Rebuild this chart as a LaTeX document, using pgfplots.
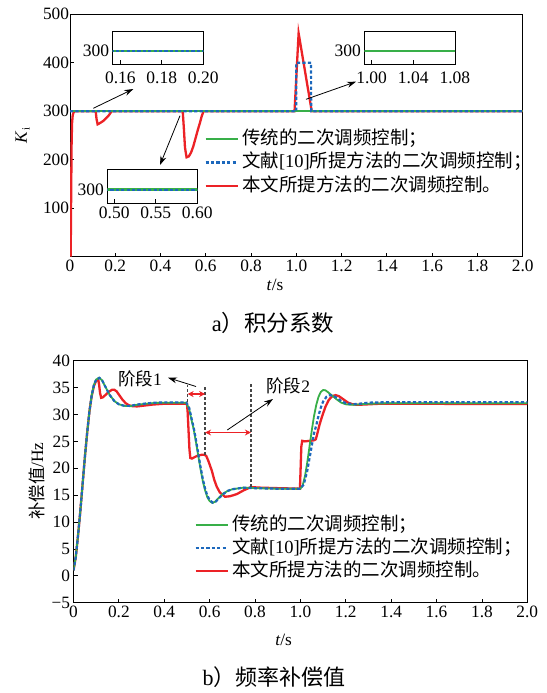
\documentclass[border=0pt]{standalone}
\usepackage{fontspec}
\setmainfont{Liberation Serif}
\newfontfamily\cjk{Noto Sans CJK SC}
\usepackage{pgfplots}
\pgfplotsset{compat=1.18}
\usetikzlibrary{arrows.meta}
\definecolor{cg}{RGB}{56,175,72}
\definecolor{cb}{RGB}{28,104,188}
\definecolor{cr}{RGB}{236,34,38}
\definecolor{cd}{RGB}{70,70,70}
\pgfplotsset{
 base/.style={scale only axis, tick align=inside, tick pos=left, major tick length=4pt,
   axis line style={line width=0.9pt},
   /pgf/number format/assume math mode=true,
   every tick label/.append style={font=\fontsize{17.3}{17.3}\selectfont},
   every tick/.style={black, line width=0.8pt}},
 gline/.style={cg, line width=2.3pt},
 bline/.style={cb, line width=2.8pt, dash pattern=on 3.2pt off 2.2pt},
 rline/.style={cr, line width=2.3pt},
 leg/.style={legend style={draw=none, fill=none, inner sep=0pt, outer sep=0pt,
   font=\fontsize{18.5}{18.5}\selectfont, row sep=5pt, column sep=3pt,
   nodes={inner sep=0pt, text height=14.5pt, text depth=3.8pt}},
   legend cell align=left,
   legend image code/.code={\draw[##1] (0pt,0pt) -- (32pt,0pt);}},
 inset/.style={base, width=90.6pt, height=33.3pt, anchor=south west,
   axis background/.style={fill=white}, ymin=286.7, ymax=320, ytick={300},
   every tick label/.append style={font=\fontsize{17.5}{17.5}\selectfont}},
}
\begin{document}
\begin{tikzpicture}
\useasboundingbox (0pt,0pt) rectangle (546pt,-693pt);
% ---------------- top axis
\begin{axis}[base, leg, at={(70pt,-256.7pt)}, anchor=south west, width=452.7pt, height=242.4pt,
  xmin=0, xmax=2, ymin=0, ymax=500,
  xtick={0,0.2,0.4,0.6,0.8,1.0,1.2,1.4,1.6,1.8,2.0},
  xticklabels={0,0.2,0.4,0.6,0.8,1.0,1.2,1.4,1.6,1.8,2.0},
  ytick={100,200,300,400,500},
  yticklabel style={xshift=2.5pt},
  xlabel={\fontsize{17.3}{17.3}\selectfont\textit{t}/s},
  xlabel style={at={(axis description cs:0.453,-0.117)}, anchor=center},
  ylabel={\fontsize{17.3}{17.3}\selectfont\textit{K}\raisebox{-0.35ex}{\fontsize{11}{11}\selectfont i}},
  ylabel style={at={(axis description cs:-0.1047,0.5)}, anchor=center},
  legend style={at={(axis description cs:0.2965,0.389)}, anchor=west}]
\addlegendimage{gline}\addlegendentry{\cjk 传统的二次调频控制；}
\addlegendimage{bline}\addlegendentry{{\cjk 文献}[10]{\cjk 所提方法的二次调频控制；}}
\addlegendimage{rline}\addlegendentry{\cjk 本文所提方法的二次调频控制。}
\addplot[rline, forget plot] coordinates {
(0.003,0) (0.005,120) (0.007,230) (0.009,275) (0.012,292) (0.016,298) (0.022,300)
(0.1135,300) (0.117,285) (0.122,273) (0.13,275) (0.147,280) (0.169,290) (0.184,300)
(0.498,300) (0.503,265) (0.508,225) (0.515,205) (0.525,207) (0.535,215) (0.545,228)
(0.555,245) (0.565,262) (0.574,276) (0.582,290) (0.59,300)
(0.992,300) (1.01,461) (1.068,300) (2,300)};
\addplot[gline, forget plot] coordinates {(0,300) (2,300)};
\addplot[bline, line width=2.2pt, forget plot] coordinates {(0,300) (0.9995,300) (1.0,400) (1.065,400) (1.0655,300) (2,300)};
\end{axis}
% insets
\begin{axis}[inset, at={(112.7pt,-64.3pt)}, xmin=0.1563, xmax=0.20005,
  xtick={0.16,0.18,0.2}, xticklabels={0.16,0.18,0.20}, xticklabel style={yshift=-4pt}]
\addplot[cg, line width=2.6pt] coordinates {(0.15,300) (0.21,300)};
\addplot[bline, line width=2.4pt] coordinates {(0.15,300) (0.21,300)};
\end{axis}
\begin{axis}[inset, at={(107.3pt,-203.3pt)}, height=34pt, width=90pt, xmin=0.4917, xmax=0.6001,
  xtick={0.5,0.55,0.6}, xticklabels={0.50,0.55,0.60}]
\addplot[cg, line width=2.6pt] coordinates {(0.45,300) (0.65,300)};
\addplot[bline, line width=2.4pt] coordinates {(0.45,300) (0.65,300)};
\end{axis}
\begin{axis}[inset, at={(364.3pt,-64.3pt)}, width=90.7pt, xmin=0.993, xmax=1.0801,
  xtick={1.0,1.04,1.08}, xticklabels={1.00,1.04,1.08}, xticklabel style={yshift=-4pt}]
\addplot[cg, line width=2.6pt] coordinates {(0.95,300) (1.1,300)};
\end{axis}
\draw[line width=0.8pt, -{Stealth[length=9pt,width=6pt]}] (93.3pt,-108.3pt) -- (133.3pt,-89pt);
\draw[line width=0.8pt, -{Stealth[length=9pt,width=6pt]}] (180pt,-115.7pt) -- (160pt,-165pt);
\draw[line width=0.8pt, -{Stealth[length=9pt,width=6pt]}] (306pt,-99.3pt) -- (356pt,-81.7pt);
\node at (273pt,-323pt) {\fontsize{22.5}{22.5}\selectfont a{\cjk ）积分系数}};
% ---------------- bottom axis
\begin{axis}[base, leg, at={(73.5pt,-602.7pt)}, anchor=south west, width=453.8pt, height=242pt,
  xmin=0, xmax=2, ymin=-5, ymax=40,
  xtick={0,0.2,0.4,0.6,0.8,1.0,1.2,1.4,1.6,1.8,2.0},
  xticklabels={0,0.2,0.4,0.6,0.8,1.0,1.2,1.4,1.6,1.8,2.0},
  ytick={-5,0,5,10,15,20,25,30,35,40},
  yticklabels={−5,0,5,10,15,20,25,30,35,40},
  xlabel={\fontsize{17.3}{17.3}\selectfont\textit{t}/s},
  xlabel style={at={(axis description cs:0.463,-0.154)}, anchor=center},
  ylabel={\fontsize{17.3}{17.3}\selectfont{\cjk 补偿值}/Hz},
  ylabel style={at={(axis description cs:-0.0815,0.503)}, anchor=center},
  legend style={at={(axis description cs:0.266,0.226)}, anchor=west}]
\addlegendimage{gline}\addlegendentry{\cjk 传统的二次调频控制；}
\addlegendimage{bline}\addlegendentry{{\cjk 文献}[10]{\cjk 所提方法的二次调频控制；}}
\addlegendimage{rline}\addlegendentry{\cjk 本文所提方法的二次调频控制。}
\addplot[rline, forget plot] coordinates {
(0,1.0) (0.01,3.5) (0.02,7.5) (0.03,12) (0.04,17) (0.05,22) (0.06,26.5) (0.07,30.5)
(0.08,33.4) (0.09,35.3) (0.1,36.3) (0.109,36.5) (0.113,35.5) (0.117,34) (0.122,33.1)
(0.13,33.2) (0.14,33.6) (0.155,34.2) (0.17,34.6) (0.18,34.6) (0.19,34.3) (0.2,33.7)
(0.215,32.8) (0.23,32.1) (0.245,31.7) (0.26,31.55) (0.28,31.5) (0.3,31.6) (0.35,31.85)
(0.4,32.0) (0.5,32.0) (0.503,30.5) (0.507,27) (0.511,23.5) (0.515,21.9) (0.522,21.8)
(0.535,22.1) (0.55,22.4) (0.565,22.5) (0.577,22.5) (0.585,22.3) (0.595,21.3) (0.61,19.5)
(0.62,17.9) (0.631,16.6) (0.645,15.5) (0.668,14.7) (0.69,14.8) (0.72,15.2) (0.75,15.9)
(0.782,16.5) (0.82,16.4) (0.9,16.3) (0.998,16.2) (1.001,20) (1.004,24) (1.008,25.1)
(1.02,25.0) (1.04,25.1) (1.06,25.2) (1.068,25.4) (1.075,26.5) (1.085,28.2) (1.096,29.7)
(1.11,31.4) (1.125,32.7) (1.14,33.4) (1.155,33.6) (1.17,33.4) (1.19,32.8) (1.21,32.2)
(1.23,31.9) (1.25,31.8) (1.28,31.85) (1.35,32.0) (2.0,31.95)};
\addplot[cg, line width=1.8pt, forget plot] coordinates {
(0,1.0) (0.01,3.5) (0.02,7.5) (0.03,12) (0.04,17) (0.05,22) (0.06,26.5) (0.07,30.5)
(0.08,33.5) (0.09,35.5) (0.1,36.5) (0.113,36.85) (0.125,36.4) (0.14,35.2) (0.16,33.6)
(0.18,32.5) (0.2,31.9) (0.225,31.6) (0.25,31.55) (0.28,31.8) (0.32,32.0) (0.36,32.15)
(0.4,32.2) (0.496,32.2) (0.51,31) (0.52,29) (0.53,27.2) (0.54,24.8) (0.55,22.3)
(0.56,19.8) (0.57,17.6) (0.58,15.9) (0.59,14.6) (0.6,13.9) (0.612,13.55) (0.625,13.8)
(0.64,14.5) (0.66,15.3) (0.68,15.8) (0.7,16.1) (0.75,16.4) (0.8,16.3) (0.9,16.2)
(1.0,16.2) (1.01,16.8) (1.02,18.5) (1.03,21) (1.04,24) (1.05,27) (1.06,29.7) (1.07,31.8)
(1.08,33.3) (1.09,34.2) (1.1,34.55) (1.11,34.5) (1.12,34.2) (1.14,33.5) (1.16,32.8)
(1.18,32.2) (1.2,31.9) (1.22,31.8) (1.25,31.85) (1.3,32.0) (1.4,32.1) (2.0,32.1)};
\addplot[bline, line width=2.2pt, forget plot] coordinates {
(0,1.0) (0.01,3.5) (0.02,7.5) (0.03,12) (0.04,17) (0.05,22) (0.06,26.5) (0.07,30.5)
(0.08,33.5) (0.09,35.5) (0.1,36.5) (0.115,36.8) (0.127,36.3) (0.14,35.2) (0.16,33.6)
(0.18,32.5) (0.2,31.9) (0.225,31.6) (0.25,31.6) (0.28,31.85) (0.32,32.05) (0.36,32.2)
(0.4,32.25) (0.497,32.25) (0.51,31.2) (0.52,29.3) (0.53,27.5) (0.54,25.2) (0.55,22.7)
(0.56,20.2) (0.57,18) (0.58,16.2) (0.59,14.9) (0.6,14.1) (0.614,13.6) (0.627,13.8)
(0.64,14.4) (0.66,15.2) (0.68,15.8) (0.7,16.1) (0.75,16.4) (0.8,16.3) (0.9,16.2)
(1.0,16.2) (1.015,17) (1.03,19.5) (1.045,23) (1.06,26.5) (1.07,28) (1.08,29.8)
(1.09,31.3) (1.1,32.4) (1.115,33.3) (1.13,33.6) (1.145,33.5) (1.16,33.1) (1.18,32.5)
(1.2,32.1) (1.23,31.9) (1.26,32.0) (1.3,32.2) (1.4,32.3) (2.0,32.3)};
\draw[cd, line width=1.3pt, dash pattern=on 3pt off 2pt] (axis cs:0.503,32.4) -- (axis cs:0.503,35.5);
\draw[cd, line width=1.3pt, dash pattern=on 3pt off 2pt] (axis cs:0.58,22.5) -- (axis cs:0.58,35.2);
\draw[cd, line width=1.3pt, dash pattern=on 3pt off 2pt] (axis cs:0.782,16.5) -- (axis cs:0.782,35.7);
\draw[cr, line width=1.8pt, {Stealth[length=6pt,width=6pt]}-{Stealth[length=6pt,width=6pt]}] (axis cs:0.503,33.8) -- (axis cs:0.58,33.8);
\draw[cr, line width=1.8pt, {Stealth[length=6pt,width=6pt]}-{Stealth[length=6pt,width=6pt]}] (axis cs:0.58,26.65) -- (axis cs:0.782,26.65);
\end{axis}
\draw[line width=0.8pt, -{Stealth[length=9pt,width=6pt]}] (196pt,-386.5pt) -- (168pt,-377.7pt);
\draw[line width=0.8pt, -{Stealth[length=9pt,width=6pt]}] (227.3pt,-430pt) -- (273pt,-399pt);
\node at (140pt,-379pt) {\fontsize{17.5}{17.5}\selectfont{\cjk 阶段}1};
\node at (288.3pt,-385.7pt) {\fontsize{17.5}{17.5}\selectfont{\cjk 阶段}2};
\node at (274pt,-677pt) {\fontsize{22}{22}\selectfont b{\cjk ）频率补偿值}};
\end{tikzpicture}
\end{document}
